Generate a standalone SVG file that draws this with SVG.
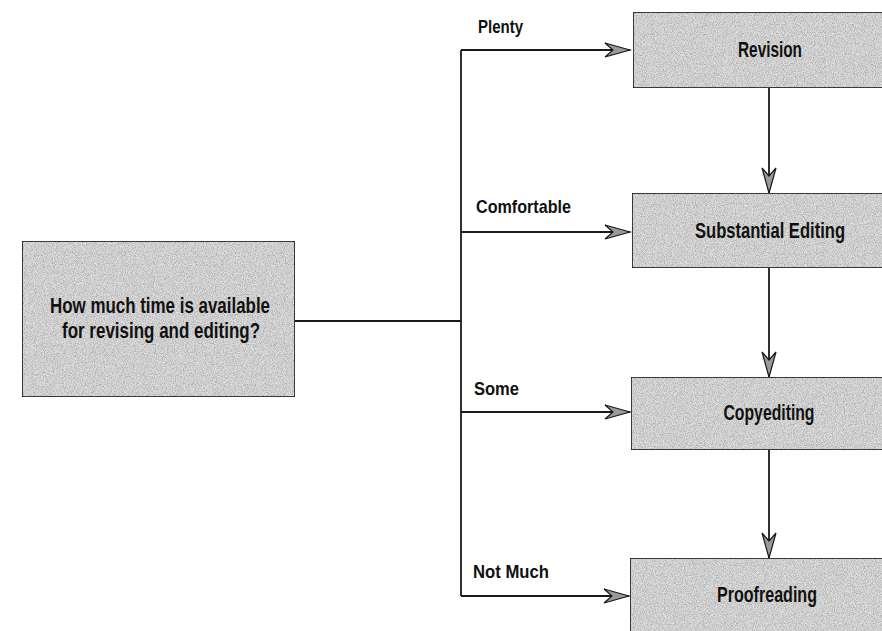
<svg xmlns="http://www.w3.org/2000/svg" width="882" height="631" viewBox="0 0 882 631">
<defs>
<filter id="grain" x="0" y="0" width="100%" height="100%">
<feTurbulence type="fractalNoise" baseFrequency="1.1" numOctaves="1" seed="3" result="n"/>
<feColorMatrix in="n" type="matrix" values="0 0 0 0 0  0 0 0 0 0  0 0 0 0 0  1.1 0 0 0 -0.4" result="m"/>
<feComposite in="m" in2="SourceGraphic" operator="in" result="c"/>
<feMerge><feMergeNode in="SourceGraphic"/><feMergeNode in="c"/></feMerge>
</filter>
<marker id="arr" markerUnits="userSpaceOnUse" markerWidth="30" markerHeight="18" viewBox="-27 -9 30 18" refX="0" refY="0" orient="auto">
<path d="M0,0 L-25,-7 L-17,0 L-25,7 Z" fill="#9a9a9a" stroke="#1a1a1a" stroke-width="1.2" stroke-linejoin="miter"/>
</marker>
</defs>
<style>
.box{fill:#dedede;stroke:#1a1a1a;stroke-width:1.6;filter:url(#grain)}
.t{font-family:"Liberation Sans",Arial,sans-serif;font-weight:bold;font-size:21.5px;fill:#111}
.l{font-size:19px}
.c{text-anchor:middle}
.ln{fill:none;stroke:#1a1a1a;stroke-width:1.8}
</style>
<rect width="882" height="631" fill="#ffffff"/>
<g id="connectors">
<path class="ln" d="M295,321 H461"/>
<path class="ln" d="M461,50 V596"/>
<path class="ln" d="M461,50 H630" marker-end="url(#arr)"/>
<path class="ln" d="M461,232 H630" marker-end="url(#arr)"/>
<path class="ln" d="M461,412 H630" marker-end="url(#arr)"/>
<path class="ln" d="M461,596 H629" marker-end="url(#arr)"/>
<path class="ln" d="M769,88 V193" marker-end="url(#arr)"/>
<path class="ln" d="M769,268 V377" marker-end="url(#arr)"/>
<path class="ln" d="M769,450 V558" marker-end="url(#arr)"/>
<text class="t l" x="478" y="33" textLength="45" lengthAdjust="spacingAndGlyphs">Plenty</text>
<text class="t l" x="476" y="213" textLength="95" lengthAdjust="spacingAndGlyphs">Comfortable</text>
<text class="t l" x="474" y="395" textLength="45" lengthAdjust="spacingAndGlyphs">Some</text>
<text class="t l" x="473" y="578" textLength="76" lengthAdjust="spacingAndGlyphs">Not Much</text>
</g>
<g id="question">
<rect class="box" x="22" y="241" width="273" height="156"/>
<text class="t c" x="160" y="313" textLength="220" lengthAdjust="spacingAndGlyphs">How much time is available</text>
<text class="t c" x="161" y="338" textLength="198" lengthAdjust="spacingAndGlyphs">for revising and editing?</text>
</g>
<g id="revision">
<rect class="box" x="633" y="12" width="270" height="76"/>
<text class="t c" x="770" y="57" textLength="64" lengthAdjust="spacingAndGlyphs">Revision</text>
</g>
<g id="substantial">
<rect class="box" x="632" y="193" width="270" height="75"/>
<text class="t c" x="770" y="238" textLength="150" lengthAdjust="spacingAndGlyphs">Substantial Editing</text>
</g>
<g id="copyediting">
<rect class="box" x="631" y="377" width="270" height="73"/>
<text class="t c" x="769" y="420" textLength="91" lengthAdjust="spacingAndGlyphs">Copyediting</text>
</g>
<g id="proofreading">
<rect class="box" x="630" y="558" width="270" height="80"/>
<text class="t c" x="767" y="602" textLength="100" lengthAdjust="spacingAndGlyphs">Proofreading</text>
</g>
</svg>
